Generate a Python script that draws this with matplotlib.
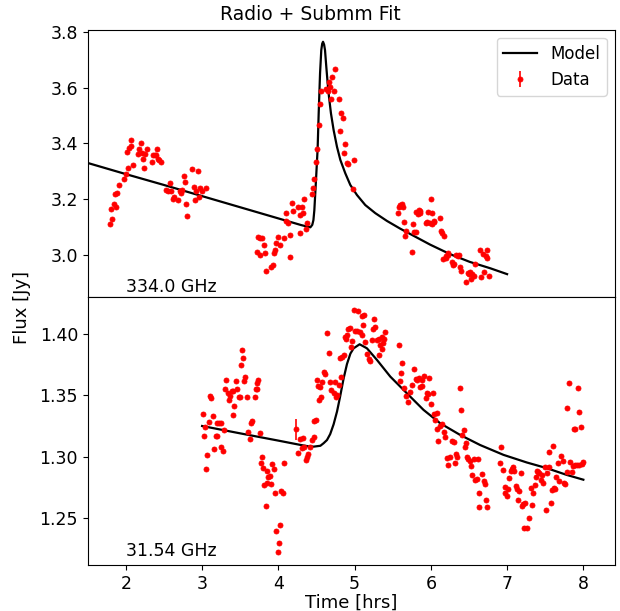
import matplotlib
matplotlib.use('Agg')
import matplotlib.pyplot as plt
from matplotlib.ticker import MultipleLocator

# ---- 334.0 GHz (submm) data, time [hrs] / flux [Jy]
top_time = [1.791, 1.821, 1.808, 1.843, 1.874, 1.856, 1.887, 1.909, 1.974, 1.996,
            2.027, 2.009, 2.039, 2.070, 2.061, 2.092, 2.157, 2.175, 2.193, 2.210,
            2.223, 2.240, 2.253, 2.271, 2.345, 2.362, 2.376, 2.393, 2.406, 2.428,
            2.441, 2.458, 2.533, 2.551, 2.577, 2.590, 2.612, 2.629, 2.690, 2.708,
            2.726, 2.739, 2.760, 2.778, 2.795, 2.804, 2.874, 2.891, 2.909, 2.926,
            2.944, 2.961, 2.979, 2.996, 3.057,
            3.730, 3.756, 3.791, 3.808, 3.721, 3.765, 3.826, 3.843, 3.905, 3.931,
            3.939, 3.961, 3.974, 3.992, 4.018, 4.079, 4.105, 4.097, 4.123, 4.149,
            4.158, 4.175, 4.193, 4.258, 4.280, 4.311, 4.324, 4.289, 4.341, 4.359,
            4.376, 4.442, 4.455, 4.472, 4.494, 4.511, 4.529, 4.542, 4.560, 4.625,
            4.647, 4.660, 4.673, 4.691, 4.708, 4.726, 4.743, 4.791, 4.822, 4.844,
            4.809, 4.879, 4.866, 4.894, 4.911, 4.994, 4.981,
            5.564, 5.581, 5.599, 5.621, 5.634, 5.647, 5.660, 5.677, 5.747, 5.760,
            5.778, 5.800, 5.809, 5.826, 5.839, 5.861, 5.852, 5.931, 5.948, 5.957,
            5.983, 6.001, 6.018, 6.014, 6.036, 6.044, 6.114, 6.127, 6.145, 6.175,
            6.166, 6.193, 6.201, 6.219, 6.228, 6.280, 6.289, 6.306, 6.333, 6.350,
            6.367, 6.376, 6.394, 6.464, 6.481, 6.499, 6.516, 6.529, 6.546, 6.560,
            6.577, 6.647, 6.664, 6.690, 6.699, 6.717, 6.730, 6.743, 6.761]
top_flux = [3.111, 3.128, 3.164, 3.183, 3.173, 3.217, 3.221, 3.250, 3.274, 3.290,
            3.313, 3.368, 3.382, 3.391, 3.412, 3.324, 3.361, 3.379, 3.403, 3.367,
            3.344, 3.311, 3.362, 3.379, 3.332, 3.357, 3.357, 3.360, 3.381, 3.345,
            3.341, 3.335, 3.232, 3.230, 3.257, 3.228, 3.202, 3.207, 3.198, 3.228,
            3.221, 3.234, 3.284, 3.260, 3.182, 3.140, 3.310, 3.244, 3.197, 3.230,
            3.301, 3.207, 3.240, 3.228, 3.241,
            3.063, 3.060, 3.059, 3.037, 3.011, 2.999, 3.008, 2.941, 2.958, 2.963,
            3.008, 3.018, 3.044, 3.063, 3.034, 3.059, 3.152, 3.123, 3.114, 2.994,
            3.072, 3.185, 3.159, 3.171, 3.143, 3.173, 3.151, 3.078, 3.202, 3.092,
            3.116, 3.217, 3.240, 3.274, 3.333, 3.380, 3.466, 3.541, 3.587, 3.597,
            3.589, 3.621, 3.603, 3.560, 3.639, 3.588, 3.667, 3.559, 3.511, 3.493,
            3.444, 3.397, 3.367, 3.329, 3.327, 3.341, 3.236,
            3.149, 3.171, 3.179, 3.183, 3.171, 3.117, 3.069, 3.086, 3.011, 3.112,
            3.084, 3.084, 3.153, 3.147, 3.160, 3.159, 3.152, 3.113, 3.118, 3.153,
            3.113, 3.200, 3.152, 3.111, 3.117, 3.121, 3.131, 3.086, 3.079, 3.069,
            2.984, 2.990, 2.996, 3.000, 3.008, 2.974, 2.964, 2.967, 3.000, 2.996,
            3.000, 2.957, 2.941, 2.903, 2.934, 2.932, 2.938, 2.913, 2.931, 2.925,
            2.968, 3.018, 2.921, 3.005, 2.938, 2.996, 3.017, 2.988, 2.924]
top_err = 0.004

# ---- 31.54 GHz (radio) data
bot_time = [3.009, 3.044, 3.022, 3.088, 3.140, 3.066, 3.057, 3.153, 3.179, 3.197,
            3.197, 3.223, 3.249, 3.254, 3.276, 3.289, 3.110, 3.123, 3.311, 3.306,
            3.337, 3.354, 3.372, 3.393, 3.407, 3.424, 3.407, 3.442, 3.459, 3.481,
            3.503, 3.507, 3.524, 3.538, 3.555, 3.568, 3.590, 3.608, 3.625, 3.642,
            3.660, 3.690, 3.703, 3.721, 3.738, 3.725, 3.756,
            3.786, 3.769, 3.800, 3.852, 3.869, 3.887, 3.922, 3.939, 3.817, 3.852,
            3.904, 3.957, 4.040, 4.057, 4.070, 3.843, 3.974, 4.022, 4.009, 3.992,
            4.254, 4.280, 4.306, 4.324, 4.341, 4.359, 4.376, 4.389, 4.420,
            4.442, 4.463, 4.472, 4.494, 4.538, 4.525, 4.507,
            4.551, 4.564, 4.573, 4.603, 4.616, 4.638, 4.660, 4.682, 4.691, 4.725,
            4.747, 4.760, 4.769, 4.791, 4.822, 4.804, 4.835, 4.857, 4.878, 4.891,
            4.900, 4.918, 4.935, 4.953, 4.970, 4.988, 5.005, 5.031, 5.040, 5.066,
            5.092, 5.097, 5.110, 5.127, 5.140, 5.162, 5.184, 5.197, 5.228, 5.241,
            5.258, 5.271, 5.293, 5.319, 5.315, 5.337, 5.359, 5.359, 5.372, 5.389,
            5.398,
            5.577, 5.625, 5.608, 5.590, 5.643, 5.669, 5.695, 5.721, 5.756, 5.774,
            5.800, 5.817, 5.843, 5.861, 5.878, 5.887, 5.905, 5.931, 5.948, 5.957,
            5.974, 6.005, 6.027, 6.036, 6.057, 6.079, 6.079, 6.097, 6.114, 6.140,
            6.167, 6.184, 6.210, 6.228, 6.245, 6.280, 6.298, 6.315, 6.324, 6.341,
            6.376, 6.394, 6.411, 6.429, 6.446, 6.455, 6.472, 6.481, 6.516, 6.533,
            6.542, 6.560, 6.577, 6.603, 6.612, 6.630, 6.638,
            6.673, 6.691, 6.712, 6.725, 6.743, 6.926, 6.909, 6.944, 6.979, 6.970,
            6.996, 7.018, 7.031, 7.049, 7.062, 7.066, 7.084, 7.092, 7.119, 7.136,
            7.145, 7.162, 7.180, 7.197, 7.215, 7.223, 7.241, 7.258, 7.284, 7.311,
            7.328, 7.346, 7.363, 7.381, 7.389, 7.407, 7.424, 7.442, 7.459, 7.477,
            7.494, 7.512, 7.529, 7.547, 7.555, 7.573, 7.590, 7.608, 7.616, 7.625,
            7.643, 7.669, 7.678, 7.712, 7.730, 7.747, 7.765, 7.782, 7.791, 7.808,
            7.826, 7.852, 7.870, 7.878, 7.887, 7.896, 7.913, 7.931, 7.948, 7.948,
            7.966, 7.983, 8.001]
bot_flux = [1.3347, 1.3246, 1.3170, 1.3287, 1.3336, 1.3013, 1.2902, 1.3064, 1.3173, 1.3170,
            1.3273, 1.3273, 1.3273, 1.3083, 1.3048, 1.3216, 1.3493, 1.3482, 1.3626, 1.3550,
            1.3517, 1.3463, 1.3496, 1.3539, 1.3534, 1.3417, 1.3344, 1.3620, 1.3550, 1.3490,
            1.3490, 1.3745, 1.3870, 1.3802, 1.3618, 1.3648, 1.3485, 1.3200, 1.3143, 1.3273,
            1.3290, 1.3485, 1.3550, 1.3604, 1.3623, 1.3553, 1.3192,
            1.3002, 1.2948, 1.2913, 1.2883, 1.2839, 1.2845, 1.2940, 1.2904, 1.2772, 1.2785,
            1.2777, 1.2704, 1.2725, 1.2709, 1.2953, 1.2601, 1.2395, 1.2446, 1.2297, 1.2227,
            1.3035, 1.3143, 1.3070, 1.3151, 1.3083, 1.2975, 1.2997, 1.3021, 1.3083,
            1.3138, 1.3165, 1.3290, 1.3300, 1.3463, 1.3580, 1.3626,
            1.3572, 1.3490, 1.3612, 1.3694, 1.3675, 1.4011, 1.3848, 1.3612, 1.3544, 1.3517,
            1.3612, 1.3485, 1.3504, 1.3585, 1.3653, 1.3802, 1.3816, 1.3829, 1.3978, 1.3962,
            1.3995, 1.4044, 1.4049, 1.3897, 1.3946, 1.4195, 1.4027, 1.4022, 1.4190, 1.4017,
            1.3995, 1.4147, 1.4071, 1.4152, 1.3938, 1.3837, 1.3794, 1.3778, 1.3951, 1.4038,
            1.4119, 1.4060, 1.3951, 1.3962, 1.3829, 1.3911, 1.3973, 1.3875, 1.3930, 1.3957,
            1.4019,
            1.3911, 1.3761, 1.3686, 1.3615, 1.3558, 1.3496, 1.3444, 1.3528, 1.3583, 1.3713,
            1.3631, 1.3626, 1.3639, 1.3572, 1.3626, 1.3577, 1.3658, 1.3477, 1.3523, 1.3512,
            1.3642, 1.3431, 1.3523, 1.3349, 1.3300, 1.3355, 1.3224, 1.3132, 1.3252, 1.3268,
            1.3203, 1.3159, 1.2991, 1.2934, 1.3002, 1.3127, 1.3124, 1.2953, 1.3024, 1.2997,
            1.3561, 1.3382, 1.3181, 1.3219, 1.3078, 1.3116, 1.3002, 1.2980, 1.2970, 1.2926,
            1.2850, 1.2980, 1.2812, 1.2818, 1.2980, 1.2704, 1.2590,
            1.2861, 1.2807, 1.2780, 1.2649, 1.2595, 1.3078, 1.2953, 1.2894, 1.2758, 1.2709,
            1.2682, 1.2736, 1.2826, 1.2885, 1.2893, 1.2899, 1.2915, 1.2885, 1.2763, 1.2736,
            1.2649, 1.2725, 1.2866, 1.2601, 1.2617, 1.2419, 1.2628, 1.2419, 1.2503, 1.2747,
            1.2606, 1.2704, 1.2769, 1.2834, 1.2885, 1.2880, 1.2866, 1.2812, 1.2853, 1.2791,
            1.2921, 1.2568, 1.2872, 1.3040, 1.2921, 1.2628, 1.2731, 1.3089, 1.2750, 1.2742,
            1.2834, 1.2948, 1.2807, 1.3007, 1.2967, 1.2791, 1.2780, 1.2877, 1.3398, 1.3599,
            1.2961, 1.2880, 1.2926, 1.3224, 1.2934, 1.3230, 1.2937, 1.3563, 1.3363, 1.2934,
            1.3246, 1.2942, 1.2959]
bot_err = 0.0015
# the one radio point with a visibly large error bar
odd_time = [4.236]
odd_flux = [1.3224]
odd_err = [0.0085]

# ---- model curves
top_model_t = [1.5, 2.0, 2.5, 3.0, 3.5, 4.0, 4.3, 4.42, 4.445, 4.46, 4.472, 4.484,
               4.495, 4.515, 4.529, 4.547, 4.563, 4.575, 4.586, 4.600, 4.612, 4.629,
               4.647, 4.664, 4.690, 4.725, 4.769, 4.813, 4.878, 4.944, 5.031, 5.140,
               5.271, 5.424, 5.6, 5.73, 5.99, 6.25, 6.51, 6.78, 7.0]
top_model_f = [3.330, 3.290, 3.251, 3.211, 3.171, 3.131, 3.107, 3.099, 3.108, 3.125,
               3.160, 3.220, 3.275, 3.380, 3.508, 3.652, 3.735, 3.758, 3.765, 3.755,
               3.735, 3.675, 3.615, 3.568, 3.508, 3.448, 3.388, 3.341, 3.293, 3.251,
               3.215, 3.179, 3.150, 3.122, 3.094, 3.075, 3.037, 3.003, 2.975, 2.952,
               2.931]
bot_model_t = [3.0, 3.5, 4.0, 4.289, 4.40, 4.463, 4.551, 4.594, 4.638, 4.68, 4.725,
               4.77, 4.81, 4.855, 4.900, 4.945, 4.987, 5.066, 5.162, 5.294, 5.468,
               5.686, 5.904, 6.123, 6.385, 6.647, 6.953, 7.259, 7.52, 7.782, 8.0]
bot_model_f = [1.3251, 1.3191, 1.3132, 1.3097, 1.3085, 1.3083, 1.3090, 1.3111, 1.3137,
               1.3185, 1.3265, 1.3370, 1.3490, 1.3635, 1.3755, 1.3840, 1.3883, 1.3916,
               1.3883, 1.3788, 1.3653, 1.3517, 1.3382, 1.3273, 1.3178, 1.3096, 1.3016,
               1.2954, 1.2908, 1.2853, 1.2814]

fs = 12.5
mk = dict(fmt='o', color='r', ms=3.6, mew=0.6, elinewidth=1.2)

fig = plt.figure(figsize=(6.2, 6.11), dpi=100)
ax1 = fig.add_axes([0.1415, 0.5144, 0.8504, 0.4373])
ax2 = fig.add_axes([0.1415, 0.0753, 0.8504, 0.4391], sharex=ax1)

# submm panel
ax1.plot(top_model_t, top_model_f, color='k', lw=1.6, label='Model')
ax1.errorbar(top_time, top_flux, yerr=top_err, label='Data', **mk)
ax1.text(2.0, 2.867, '334.0 GHz', fontsize=fs)
ax1.set_ylim(2.85, 3.809)
ax1.yaxis.set_major_locator(MultipleLocator(0.2))
ax1.tick_params(axis='x', bottom=False, labelbottom=False)
ax1.tick_params(axis='y', labelsize=fs)
ax1.legend(loc='upper right', fontsize=12)

# radio panel
ax2.plot(bot_model_t, bot_model_f, color='k', lw=1.6)
ax2.errorbar(bot_time, bot_flux, yerr=bot_err, **mk)
ax2.errorbar(odd_time, odd_flux, yerr=odd_err, **mk)
ax2.text(2.0, 1.2194, '31.54 GHz', fontsize=fs)
ax2.set_ylim(1.212, 1.4303)
ax2.set_xlim(1.5, 8.415)
ax2.xaxis.set_major_locator(MultipleLocator(1))
ax2.yaxis.set_major_locator(MultipleLocator(0.05))
ax2.tick_params(labelsize=fs)
ax2.set_xlabel('Time [hrs]', fontsize=13, labelpad=0.5)

fig.text(0.035, 0.496, 'Flux [Jy]', rotation=90, ha='center', va='center', fontsize=13)
fig.text(0.5, 1 - 15 / 611, 'Radio + Submm Fit', ha='center', va='center', fontsize=13.5)

fig.savefig('out.png', dpi=100)
